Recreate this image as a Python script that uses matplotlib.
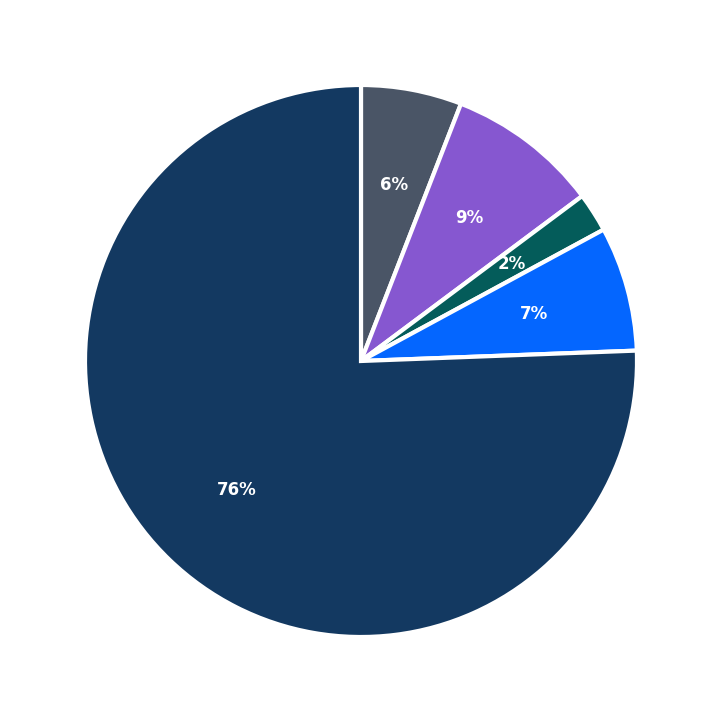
import matplotlib
matplotlib.use("Agg")
import matplotlib.pyplot as plt

categories = ["A", "B", "C", "D", "E"]
values = [5.9, 8.9, 2.3, 7.3, 75.6]
colors = ["#4a5566", "#8657d0", "#045c5a", "#0466ff", "#133961"]

fig = plt.figure(figsize=(7.23, 7.23), dpi=100)
r = 276 / 723
ax = fig.add_axes([361/723 - r, (723-361)/723 - r, 2*r, 2*r])
ax.pie(values, colors=colors, startangle=90, counterclock=False,
       autopct="%.0f%%", pctdistance=0.65,
       wedgeprops=dict(edgecolor="white", linewidth=3),
       textprops=dict(color="white", fontsize=12, fontweight="bold"))
ax.set_xlim(-1, 1)
ax.set_ylim(-1, 1)
ax.set_aspect("equal")
ax.axis("off")
fig.savefig("out.png", dpi=100)
